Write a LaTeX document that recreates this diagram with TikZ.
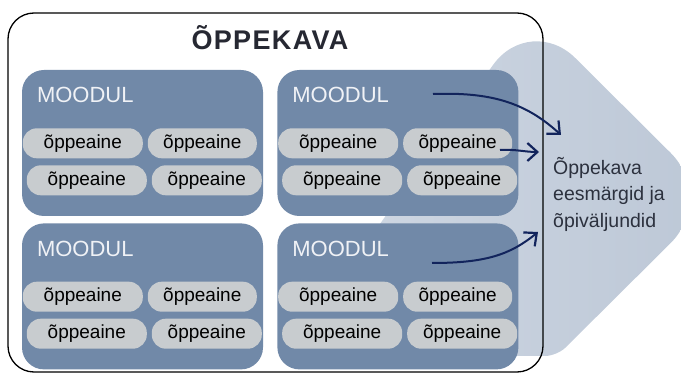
\documentclass[tikz,border=0pt]{standalone}
\usepackage{fontspec}
\setmainfont{Liberation Sans}
\newfontfamily\titlefont{Liberation Sans}[LetterSpace=5]
\usepackage{tikz}
\usetikzlibrary{shapes}
\usetikzlibrary{positioning}
\usetikzlibrary{arrows.meta}
\definecolor{modulblue}{RGB}{113,137,168}
\definecolor{modulink}{RGB}{240,242,246}
\definecolor{ainegrey}{RGB}{200,204,207}
\definecolor{goallight}{RGB}{210,218,229}
\definecolor{goaldark}{RGB}{188,199,214}
\definecolor{goalink}{RGB}{44,49,62}
\definecolor{titleink}{RGB}{38,40,50}
\definecolor{arrownavy}{RGB}{18,36,92}
\tikzstyle{modul}=[rectangle,rounded corners=22pt,fill=modulblue,minimum width=241pt,minimum height=146pt,inner sep=0pt]
\tikzstyle{modlabel}=[font=\fontsize{22}{26}\selectfont,text=modulink,inner sep=0pt,anchor=base west]
\tikzstyle{aine}=[rectangle,rounded corners=14pt,fill=ainegrey,minimum height=30pt,inner sep=0pt,font=\fontsize{19}{21}\selectfont]
\newcommand{\Aine}{õppeaine}

\begin{document}
\begin{tikzpicture}[x=1pt,y=-1pt]

	\tikzstyle{arrow}=[->,line width=2pt,draw=arrownavy,>={Straight Barb[length=10pt,width=18pt,line width=2.2pt]}];
	\tikzstyle{kastike}=[draw,line width=1.3pt,rounded corners=26pt,minimum width=535pt,minimum height=359pt,inner sep=0pt];

	\useasboundingbox (0,0) rectangle (681,374);

	% eesmärkide taust
	\shade[left color=goallight,right color=goaldark] (286,356) [rounded corners=64pt] -- (530,13) -- (716,198) [rounded corners=12pt] -- (557,356) -- cycle;

	\node (kava) [kastike] at (275.5,192.5) {};
	\node (title) [anchor=base,text=titleink] at (270,50) {\titlefont\bfseries\fontsize{27}{30}\selectfont ÕPPEKAVA};

	\node (m1) [modul] at (142.5,143) {};
	\node (m2) [modul,right=14pt of m1] {};
	\node (m3) [modul,below=7pt of m1] {};
	\node (m4) [modul,right=14pt of m3] {};

	\foreach \m in {m1,m2,m3,m4} {
		\node (\m l) [modlabel] at ([shift={(15,33)}]\m.north west) {MOODUL};
		\node (\m a) [aine,minimum width=120pt] at ([shift={(61,73.5)}]\m.north west) {\Aine};
		\node (\m b) [aine,minimum width=109pt] at ([shift={(180.5,73.5)}]\m.north west) {\Aine};
		\node (\m c) [aine,minimum width=120pt] at ([shift={(65,110.5)}]\m.north west) {\Aine};
		\node (\m d) [aine,minimum width=110pt] at ([shift={(185,110.5)}]\m.north west) {\Aine};
	}

	\node (goal) [anchor=north west,align=left,inner sep=0pt,text=goalink,font=\fontsize{19.5}{26.5}\selectfont] at (553,157) {Õppekava\\eesmärgid ja\\õpiväljundid};

	\coordinate (s1) at (433,94);
	\coordinate (e1) at (561,135);
	\coordinate (s2) at (500,150);
	\coordinate (e2) at (539,152);
	\coordinate (s3) at (432,263);
	\coordinate (e3) at (538,232);

	\draw[arrow] (s1) .. controls (490,92) and (525,102) .. (e1);
	\draw[arrow] (s2) .. controls (515,149) and (525,152) .. (e2);
	\draw[arrow] (s3) .. controls (485,263) and (510,255) .. (e3);
\end{tikzpicture}
\end{document}
